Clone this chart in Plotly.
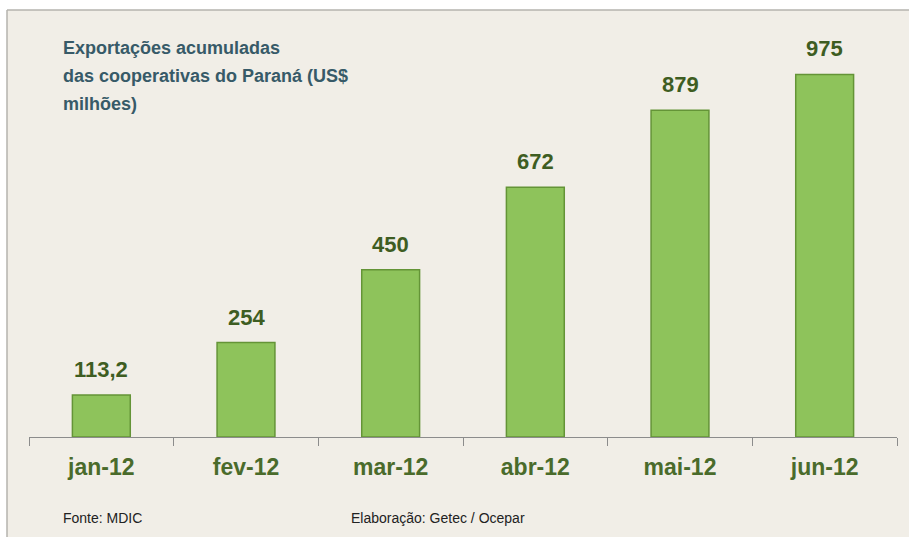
import plotly.graph_objects as go

categories = ["jan-12", "fev-12", "mar-12", "abr-12", "mai-12", "jun-12"]
values = [113.2, 254, 450, 672, 879, 975]
value_labels = ["113,2", "254", "450", "672", "879", "975"]
title_lines = ["Exportações acumuladas", "das cooperativas do Paraná (US$", "milhões)"]
source_left = "Fonte: MDIC"
source_right = "Elaboração: Getec / Ocepar"

W, H = 909, 537
L, R, T, B = 29, 12, 28, 100
PW, PH = W - L - R, H - T - B

def px_x(px):
    return (px - L) / PW

def px_y(py):
    return (H - B - py) / PH

BG = "#f1eee7"

fig = go.Figure()
fig.add_trace(go.Bar(
    x=categories, y=values, width=0.40,
    marker=dict(color="#8ec35b", line=dict(color="#649437", width=1.5)),
    hoverinfo="skip",
))

annotations = []
for c, v, t in zip(categories, values, value_labels):
    annotations.append(dict(x=c, y=v, text="<b>%s</b>" % t, showarrow=False, yanchor="bottom",
                            yshift=11, font=dict(family="Liberation Sans, Arial", size=22,
                                                 color="#3e5d22")))
for i, line in enumerate(title_lines):
    annotations.append(dict(xref="paper", yref="paper", x=px_x(61), y=px_y(48 + 28 * i),
                            xanchor="left", yanchor="middle", text="<b>%s</b>" % line,
                            showarrow=False,
                            font=dict(family="Liberation Sans, Arial", size=18, color="#375a68")))
annotations.append(dict(xref="paper", yref="paper", x=px_x(61), y=px_y(518),
                        xanchor="left", yanchor="middle", text=source_left, showarrow=False,
                        font=dict(family="Liberation Sans, Arial", size=14, color="#222222")))
annotations.append(dict(xref="paper", yref="paper", x=px_x(349), y=px_y(518),
                        xanchor="left", yanchor="middle", text=source_right, showarrow=False,
                        font=dict(family="Liberation Sans, Arial", size=14, color="#222222")))

shapes = [
    dict(type="rect", xref="paper", yref="paper", x0=px_x(-2), x1=px_x(W + 2),
         y0=px_y(10), y1=px_y(-2), fillcolor="white", line=dict(width=0), layer="above"),
    dict(type="rect", xref="paper", yref="paper", x0=px_x(-2), x1=px_x(7),
         y0=px_y(H + 2), y1=px_y(-2), fillcolor="white", line=dict(width=0), layer="above"),
    dict(type="line", xref="paper", yref="paper", x0=px_x(7), x1=px_x(W + 2),
         y0=px_y(10), y1=px_y(10), line=dict(color="#b5b3ae", width=1.5), layer="above"),
    dict(type="line", xref="paper", yref="paper", x0=px_x(7), x1=px_x(7),
         y0=px_y(H + 2), y1=px_y(10), line=dict(color="#b5b3ae", width=1.5), layer="above"),
]

fig.update_layout(
    width=W, height=H,
    margin=dict(l=L, r=R, t=T, b=B),
    paper_bgcolor=BG, plot_bgcolor=BG,
    showlegend=False,
    annotations=annotations,
    shapes=shapes,
    xaxis=dict(range=[-0.5, 5.5], tickson="boundaries", ticks="outside", ticklen=8,
               tickcolor="#8c8c8c", tickwidth=1.2, showline=True, linecolor="#8c8c8c",
               linewidth=1.2, showgrid=False, ticklabelstandoff=9,
               tickfont=dict(family="Liberation Sans, Arial", size=23, color="#4a6b2b"),
               tickprefix="<b>", ticksuffix="</b>", fixedrange=True),
    yaxis=dict(range=[0, 1100], visible=False, showgrid=False, zeroline=False, fixedrange=True),
)

fig.write_html("out.html")
